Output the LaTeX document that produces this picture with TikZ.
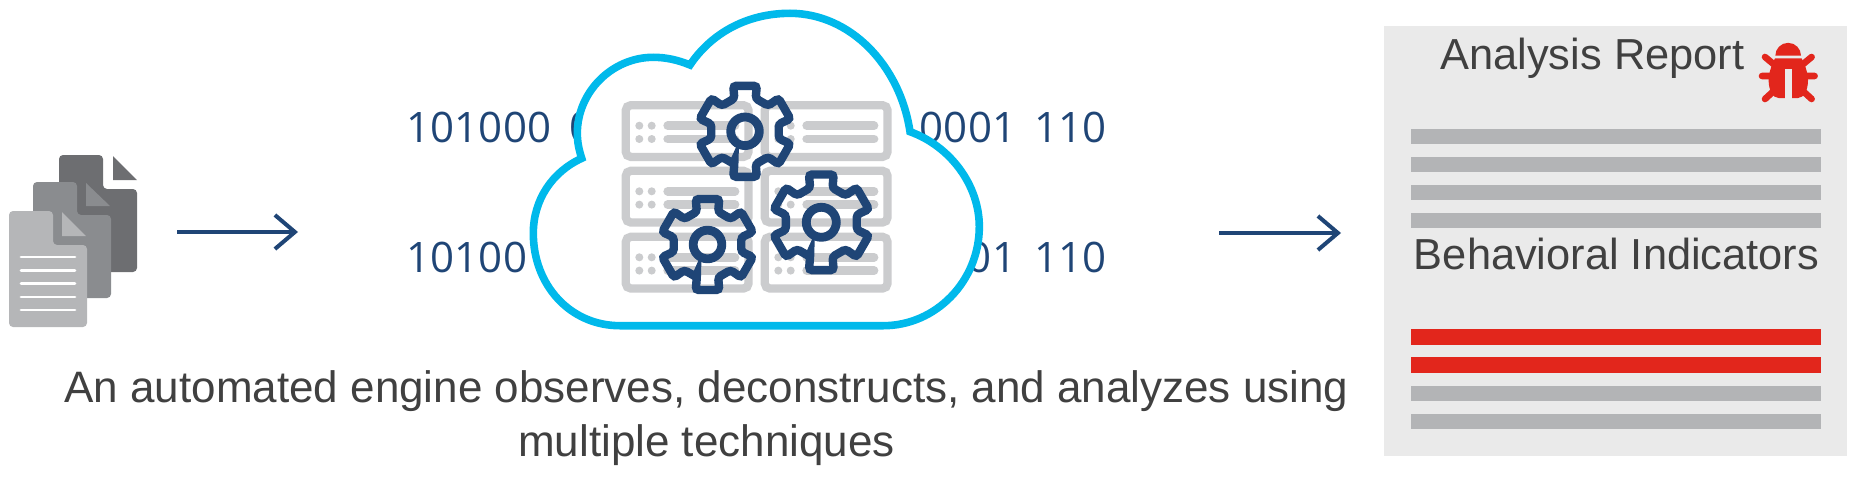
\documentclass[tikz,border=0pt]{standalone}
\usepackage{fontspec}
\setmainfont{Liberation Sans}
\newfontfamily\binfont[WordSpace=1.7]{Open Sans}
\usetikzlibrary{arrows.meta}
\definecolor{navy}{HTML}{1F4576}
\definecolor{skyline}{HTML}{00B9EB}
\definecolor{rackgrey}{HTML}{CBCCCE}
\definecolor{bargrey}{HTML}{B3B4B6}
\definecolor{panelgrey}{HTML}{EAEAEA}
\definecolor{bugred}{HTML}{E2261C}
\definecolor{inktext}{HTML}{404040}
\definecolor{docback}{HTML}{6D6E71}
\definecolor{docmid}{HTML}{8A8C8F}
\definecolor{docfront}{HTML}{B5B6B8}
\tikzset{
  flowarrow/.style={draw=navy,line width=2pt,-{Straight Barb[length=10pt,width=17pt,line width=2pt]}},
  bintext/.style={text=navy,inner sep=0pt,font=\binfont\fontsize{21}{25}\selectfont},
  bodytext/.style={text=inktext,inner sep=0pt,font=\fontsize{21.7}{27.3}\selectfont},
  barline/.style={fill=bargrey},
  redline/.style={fill=bugred},
  rackunit/.pic={
    \draw[rackgrey,line width=4.15pt,rounded corners=2.5pt] (0,0) rectangle (122.7,51.7);
    \foreach \ypos in {20.5,33.8}{
      \fill[rackgrey] (13.5,\ypos) circle (4);
      \fill[rackgrey] (25.9,\ypos) circle (4);
      \draw[rackgrey,line width=4.35pt,line cap=round] (41.9,\ypos) -- (109.2,\ypos);
    }
  },
  gearpic/.pic={
    \draw[navy,line width=4.2pt,rounded corners=1.5pt] (108:34.5)
      \foreach \a in {90,30,-30,-90,-150,-210}{
        -- (\a+14.5:47) -- (\a-14.5:47) -- (\a-18:34.5) -- (\a-42:34.5)
      } -- cycle;
    \draw[navy,line width=4.4pt] (0,0) circle (14.3);
  }
}
\begin{document}
\begin{tikzpicture}[x=0.5pt,y=-0.5pt]
  \useasboundingbox (0,0) rectangle (1855,503);

  % documents
  \fill[docback,rounded corners=2pt] (103,155) -- (59,155) -- (59,272) -- (137,272) -- (137,189) -- (103,189) -- cycle;
  \fill[docback] (113,156) -- (137,180) -- (113,180) -- cycle;
  \fill[docmid,rounded corners=2pt] (77,182) -- (33,182) -- (33,298) -- (111,298) -- (111,215) -- (77,215) -- cycle;
  \fill[docmid] (86,183) -- (110,206) -- (86,206) -- cycle;
  \fill[docfront,rounded corners=2pt] (53,211) -- (9,211) -- (9,327) -- (87,327) -- (87,245) -- (53,245) -- cycle;
  \fill[docfront] (62,212) -- (86,236) -- (62,236) -- cycle;
  \foreach \ypos in {257,270.5,283.5,297,310}
    \draw[white,line width=1.4pt,line cap=round] (21,\ypos) -- (75,\ypos);

  \coordinate (docsout) at (177,232);
  \coordinate (cloudin) at (298,232);
  \draw[flowarrow] (docsout) -- (cloudin);

  % bits behind the cloud
  \node[bintext,anchor=base west] (bitsupl) at (406.5,142) {101000 0};
  \node[bintext,anchor=base east] (bitsupr) at (1107,142) {0001 110};
  \node[bintext,anchor=base west] (bitsdnl) at (406.5,272) {10100};
  \node[bintext,anchor=base east] (bitsdnr) at (1107,272) {01 110};

  % cloud
  \draw[skyline,line width=3.8pt,fill=white] (620,325.7) -- (883.3,325.7)
    .. controls (936,325.7) and (979.3,281) .. (979.3,226.7)
    .. controls (979.3,185) and (950,146) .. (910,131.7)
    .. controls (900,65) and (850,13.3) .. (790,13.3)
    .. controls (745,13.3) and (710,35) .. (690,65)
    .. controls (678,60) and (666,57.3) .. (653.3,57.3)
    .. controls (612,57.3) and (577.3,92) .. (577.3,133.3)
    .. controls (577.3,142) and (579,150) .. (581.7,158.3)
    .. controls (552,172) and (533.3,200) .. (533.3,233.3)
    .. controls (533.3,285) and (570,325.7) .. (620,325.7) -- cycle;

  % rack
  \foreach \xpos in {625.8,764.8}
    \foreach \ypos in {105.2,170.8,236.8}
      \pic at (\xpos,\ypos) {rackunit};

  % gears
  \pic at (745,131.3) {gearpic};
  \pic at (707.5,244.5) {gearpic};
  \pic[scale=1.05] at (821.3,222.3) {gearpic};

  \node[bodytext,font=\fontsize{22}{27.3}\selectfont,align=center,anchor=north] (caption) at (706.5,370) {An automated engine observes, deconstructs, and analyzes using\\multiple techniques};

  \coordinate (cloudout) at (1219,233);
  \coordinate (reportin) at (1341,233);
  \draw[flowarrow] (cloudout) -- (reportin);

  % report
  \fill[panelgrey] (1384.3,25.7) rectangle (1846.7,455.7);
  \node[bodytext,anchor=base west] (reporttitle) at (1440,69.3) {Analysis Report};
  \node[bodytext,anchor=base west] (indicators) at (1413.5,269.3) {Behavioral Indicators};
  \foreach \ypos in {129,157,185,213,385.7,413.7}
    \fill[barline] (1411,\ypos) rectangle (1820.7,\ypos+15.3);
  \foreach \ypos in {329.3,357.3}
    \fill[redline] (1411,\ypos) rectangle (1820.7,\ypos+15.3);

  % bug
  \fill[bugred] (1775.3,55.7) arc[start angle=180,end angle=360,radius=12.85] -- cycle;
  \draw[bugred,line width=3.3pt,line cap=round] (1765,57) -- (1777,67) (1811.6,57) -- (1799.6,67) (1762,76) -- (1814.6,76) (1765,99) -- (1777,88) (1811.6,99) -- (1799.6,88);
  \fill[bugred] (1775,58.3) -- (1801.6,58.3) .. controls (1805.6,66) and (1808,74) .. (1808,80) .. controls (1808,90) and (1804,98) .. (1798,98) -- (1778.6,98) .. controls (1772.6,98) and (1768.6,90) .. (1768.6,80) .. controls (1768.6,74) and (1771,66) .. (1775,58.3) -- cycle;
  \fill[panelgrey] (1784.6,69.3) rectangle (1791.8,99);
\end{tikzpicture}
\end{document}
